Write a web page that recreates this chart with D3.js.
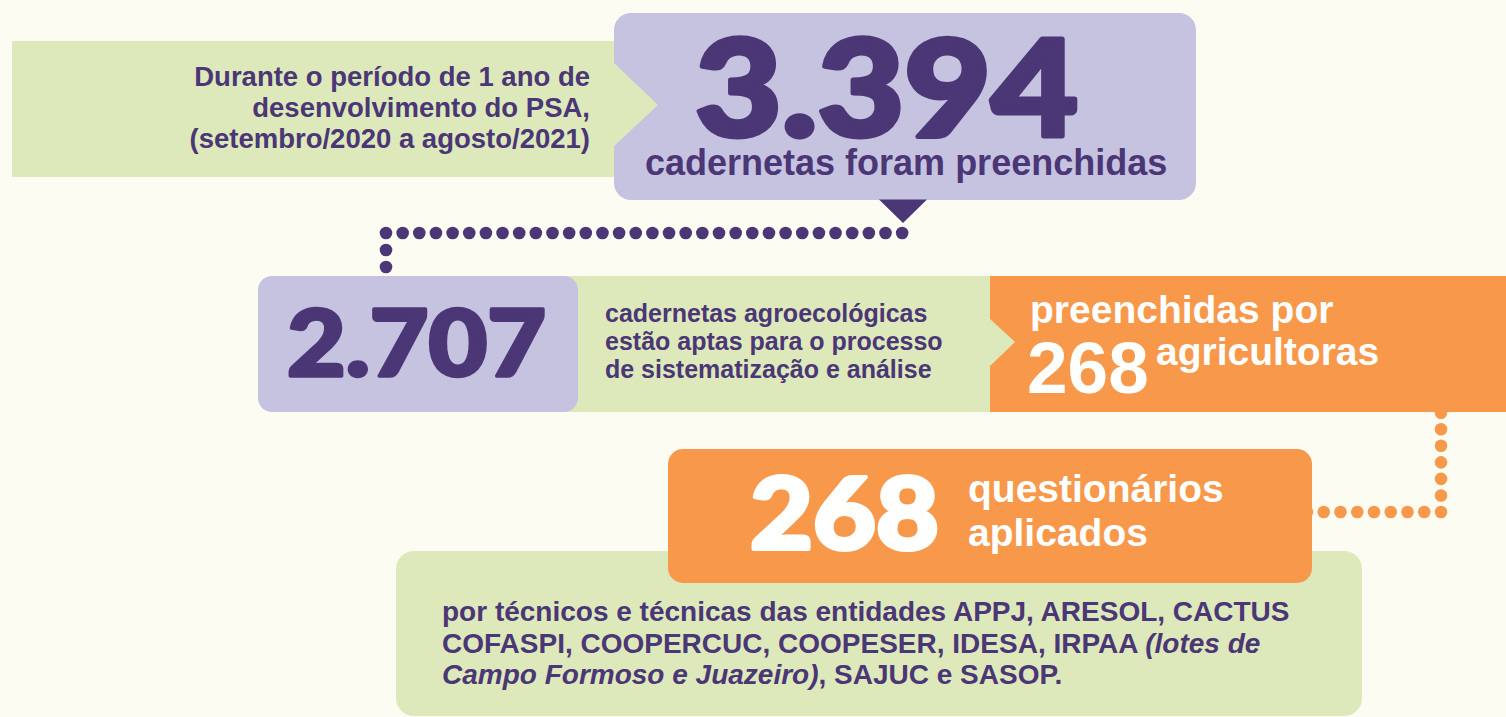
<!DOCTYPE html>
<html>
<head>
<meta charset="utf-8">
<script src="https://cdn.jsdelivr.net/npm/d3@7"></script>
<style>
  html, body { margin: 0; padding: 0; background: #FDFCF3; }
  svg { display: block; }
</style>
</head>
<body>
<svg id="chart"></svg>
<script>
const width = 1506
const height = 717

// Data
const totalValues = [3394, 2707]
const farmerValues = [268]
const surveyValues = [268]
const introLines = ["Durante o período de 1 ano de", "desenvolvimento do PSA,", "(setembro/2020 a agosto/2021)"]
const filledLabel = ["cadernetas foram preenchidas"]
const readyLines = ["cadernetas agroecológicas", "estão aptas para o processo", "de sistematização e análise"]
const farmerLabels = ["preenchidas por", "agricultoras"]
const surveyLines = ["questionários", "aplicados"]
// each line: list of [text, italic]
const entityLines = [
    [["por técnicos e técnicas das entidades APPJ, ARESOL, CACTUS", false]],
    [["COFASPI, COOPERCUC, COOPESER, IDESA, IRPAA ", false], ["(lotes de", true]],
    [["Campo Formoso e Juazeiro)", true], [", SAJUC e SASOP.", false]]
]

// Colours
const bg = "#FDFCF3"
const purple = "#4B3676"
const lavender = "#C6C3E0"
const green = "#DDE9BB"
const orange = "#F7984A"
const white = "#FFFFFF"

const bodyFont = "'Liberation Sans', Arial, sans-serif"
const heavyFont = "Lato, Inter, Roboto, sans-serif"

const fmt = d3.formatLocale({ decimal: ",", thousands: ".", grouping: [3], currency: ["R$ ", ""] }).format(",d")

const svg = d3.select("#chart")
    .attr("width", width)
    .attr("height", height)

svg.append("rect").attr("width", width).attr("height", height).attr("fill", bg)

// Dotted connectors (drawn under the boxes)
const dotRadius = 6.3
const purpleDots = d3.range(32).map(i => ({ x: 386 + i * 16.65, y: 233 }))
    .concat(d3.range(1, 3).map(i => ({ x: 386, y: 233 + i * 17 })))
const orangeDots = d3.range(7).map(i => ({ x: 1441, y: 512 - i * 16.55 }))
    .concat(d3.range(1, 9).map(i => ({ x: 1441 - i * 16.75, y: 512 })))

svg.append("g").selectAll("circle")
    .data(purpleDots)
    .enter()
    .append("circle")
    .attr("cx", d => d.x)
    .attr("cy", d => d.y)
    .attr("r", dotRadius)
    .attr("fill", purple)

svg.append("g").selectAll("circle")
    .data(orangeDots)
    .enter()
    .append("circle")
    .attr("cx", d => d.x)
    .attr("cy", d => d.y)
    .attr("r", dotRadius)
    .attr("fill", orange)

const boxes = svg.append("g")

// Row 1
boxes.append("rect").attr("x", 12).attr("y", 41).attr("width", 620).attr("height", 136).attr("fill", green)
boxes.append("rect").attr("x", 614).attr("y", 13).attr("width", 582).attr("height", 187).attr("rx", 17).attr("fill", lavender)
boxes.append("path").attr("d", "M613,62L658,105L613,147Z").attr("fill", green)
boxes.append("path").attr("d", "M879,199.5L927,199.5L903,223Z").attr("fill", purple)

// Row 2
boxes.append("rect").attr("x", 540).attr("y", 276).attr("width", 460).attr("height", 136).attr("fill", green)
boxes.append("rect").attr("x", 258).attr("y", 276).attr("width", 320).attr("height", 136).attr("rx", 14).attr("fill", lavender)
boxes.append("rect").attr("x", 990).attr("y", 276).attr("width", 516).attr("height", 136).attr("fill", orange)
boxes.append("path").attr("d", "M989,318L1015,342L989,367Z").attr("fill", green)

// Row 3
boxes.append("rect").attr("x", 396).attr("y", 551).attr("width", 966).attr("height", 165).attr("rx", 18).attr("fill", green)
boxes.append("rect").attr("x", 668).attr("y", 449).attr("width", 644).attr("height", 134).attr("rx", 15).attr("fill", orange)

const texts = svg.append("g")

// Intro text (right aligned)
texts.selectAll(".intro")
    .data(introLines)
    .enter()
    .append("text")
    .attr("class", "intro")
    .attr("x", 590)
    .attr("y", (d, i) => 86 + i * 30.8)
    .attr("text-anchor", "end")
    .attr("font-family", bodyFont)
    .attr("font-weight", "bold")
    .attr("font-size", 27.5)
    .attr("fill", purple)
    .text(d => d)

// Big numbers, thickened with a stroke to get the heavy look
const bigNumbers = [
    { value: totalValues[0], x: 695, y: 136, size: 134, len: 383, stroke: 5, color: purple },
    { value: totalValues[1], x: 287, y: 376, size: 92, len: 259, stroke: 3.5, color: purple },
    { value: surveyValues[0], x: 750, y: 549, size: 100, len: 189, stroke: 4, color: white }
]

texts.selectAll(".big")
    .data(bigNumbers)
    .enter()
    .append("text")
    .attr("class", "big")
    .attr("x", d => d.x)
    .attr("y", d => d.y)
    .attr("font-family", heavyFont)
    .attr("font-weight", 900)
    .attr("font-size", d => d.size)
    .attr("textLength", d => d.len)
    .attr("lengthAdjust", "spacingAndGlyphs")
    .attr("fill", d => d.color)
    .attr("stroke", d => d.color)
    .attr("stroke-width", d => d.stroke)
    .attr("stroke-linejoin", "round")
    .text(d => fmt(d.value))

texts.append("text")
    .attr("x", 645)
    .attr("y", 175)
    .attr("font-family", bodyFont)
    .attr("font-weight", "bold")
    .attr("font-size", 36)
    .attr("fill", purple)
    .text(filledLabel[0])

texts.selectAll(".ready")
    .data(readyLines)
    .enter()
    .append("text")
    .attr("class", "ready")
    .attr("x", 605)
    .attr("y", (d, i) => 322 + i * 28)
    .attr("font-family", bodyFont)
    .attr("font-weight", "bold")
    .attr("font-size", 25)
    .attr("fill", purple)
    .text(d => d)

// Orange box 1
texts.append("text")
    .attr("x", 1030)
    .attr("y", 323)
    .attr("font-family", bodyFont)
    .attr("font-weight", "bold")
    .attr("font-size", 39)
    .attr("fill", white)
    .text(farmerLabels[0])

texts.append("text")
    .attr("x", 1027)
    .attr("y", 393)
    .attr("font-family", bodyFont)
    .attr("font-weight", "bold")
    .attr("font-size", 73)
    .attr("fill", white)
    .text(fmt(farmerValues[0]))

texts.append("text")
    .attr("x", 1156)
    .attr("y", 365)
    .attr("font-family", bodyFont)
    .attr("font-weight", "bold")
    .attr("font-size", 39)
    .attr("fill", white)
    .text(farmerLabels[1])

// Orange box 2
texts.selectAll(".survey")
    .data(surveyLines)
    .enter()
    .append("text")
    .attr("class", "survey")
    .attr("x", 968)
    .attr("y", (d, i) => 502 + i * 44)
    .attr("font-family", bodyFont)
    .attr("font-weight", "bold")
    .attr("font-size", 39)
    .attr("fill", white)
    .text(d => d)

// Entities text
const entityText = texts.selectAll(".entity")
    .data(entityLines)
    .enter()
    .append("text")
    .attr("class", "entity")
    .attr("x", 442)
    .attr("y", (d, i) => 621 + i * 31.5)
    .attr("font-family", bodyFont)
    .attr("font-weight", "bold")
    .attr("font-size", 28)
    .attr("fill", purple)

entityText.selectAll("tspan")
    .data(d => d)
    .enter()
    .append("tspan")
    .attr("font-style", d => d[1] ? "italic" : "normal")
    .text(d => d[0])
</script>
</body>
</html>
